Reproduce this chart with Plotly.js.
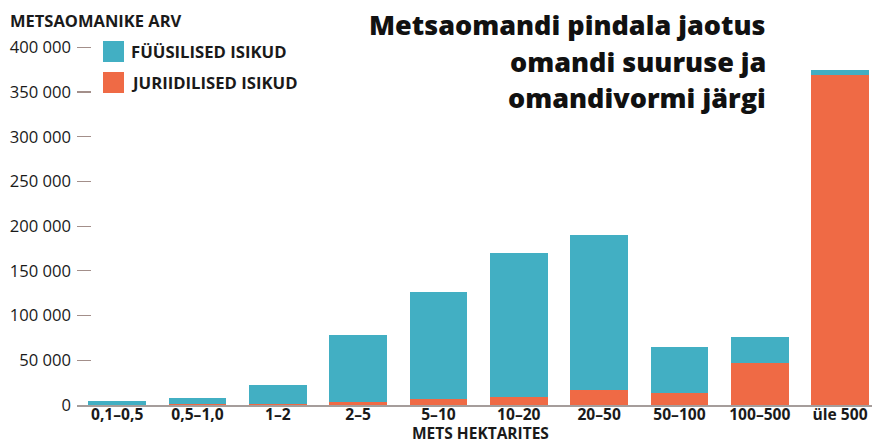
<!DOCTYPE html>
<html><head><meta charset="utf-8">
<script src="https://cdn.plot.ly/plotly-3.0.1.min.js"></script>
<style>html,body{margin:0;padding:0;background:#fff}#c{width:872px;height:443px}</style>
</head><body><div id="c"></div>
<script>
const categories = ["0,1–0,5","0,5–1,0","1–2","2–5","5–10","10–20","20–50","50–100","100–500","üle 500"];
const juriidilised = [500, 900, 1200, 3700, 6700, 8900, 17100, 13400, 47000, 369000];
const fyysilised = [4000, 6900, 21200, 74300, 119700, 161100, 172900, 51500, 29000, 5700];
const seriesNames = ["FÜÜSILISED ISIKUD","JURIIDILISED ISIKUD"];
const yTicks = [0,50000,100000,150000,200000,250000,300000,350000,400000];
const titleLines = ["Metsaomandi pindala jaotus","omandi suuruse ja","omandivormi järgi"];
const colBlue = "#42afc3", colOrange = "#ef6a45";
const FONT = "'Open Sans', 'Noto Sans', sans-serif";
const TXT = "#1a1a1a";

const traces = [
  {type:"bar", name:seriesNames[1], x:categories, y:juriidilised, marker:{color:colOrange}, hoverinfo:"skip"},
  {type:"bar", name:seriesNames[0], x:categories, y:fyysilised, marker:{color:colBlue}, hoverinfo:"skip"}
];

const W = 795, H = 365; // plot area size in px
const px = v => (v-77)/W, py = v => (405-v)/H;

const annotations = [
  {x:px(130), y:py(51.5), xanchor:"left", yanchor:"middle", text:seriesNames[0], font:{family:FONT, size:16.7, color:TXT, weight:700}},
  {x:px(130), y:py(82.5), xanchor:"left", yanchor:"middle", text:seriesNames[1], font:{family:FONT, size:16.7, color:TXT, weight:700}},
  {x:px(9), y:py(20), xanchor:"left", yanchor:"middle", text:"METSAOMANIKE ARV", font:{family:FONT, size:16.5, color:TXT, weight:700}},
  {x:px(480), y:py(433), xanchor:"center", yanchor:"middle", text:"METS HEKTARITES", font:{family:FONT, size:15.5, color:TXT, weight:700}}
];
const baselines = [36, 73, 109];
titleLines.forEach((t,i) => annotations.push({
  x:px(767), y:py(baselines[i]+8), xanchor:"right", yanchor:"bottom", text:t,
  font:{family:FONT, size:27, color:"#111", weight:800}
}));
annotations.forEach(a => {a.xref="paper"; a.yref="paper"; a.showarrow=false; a.borderpad=0;});

const layout = {
  width:872, height:443,
  margin:{l:77, r:0, t:40, b:38},
  barmode:"stack", bargap:0.28, showlegend:false,
  paper_bgcolor:"#fff", plot_bgcolor:"#fff",
  font:{family:FONT, size:15, color:TXT},
  xaxis:{
    type:"category", range:[-0.5, 9.397], showgrid:false, zeroline:false,
    showline:true, linecolor:"#a59d9b", linewidth:2, ticks:"",
    tickfont:{family:FONT, size:15.6, color:TXT, weight:700}, ticklabelstandoff:-6
  },
  yaxis:{
    range:[0, 408270], tickvals:yTicks, tickformat:",d", showgrid:false, zeroline:false,
    showline:false, ticks:"inside", ticklen:14, tickcolor:"#a38f8a", tickwidth:1.2,
    tickfont:{family:FONT, size:16.6, color:TXT}, ticklabelstandoff:5
  },
  separators:", ",
  shapes:[
    {type:"rect", xref:"paper", yref:"paper", x0:px(103), x1:px(124), y0:py(62), y1:py(41), fillcolor:colBlue, line:{width:0}},
    {type:"rect", xref:"paper", yref:"paper", x0:px(103), x1:px(124), y0:py(93), y1:py(72), fillcolor:colOrange, line:{width:0}}
  ],
  annotations:annotations
};
Plotly.newPlot("c", traces, layout, {staticPlot:true, displayModeBar:false});
</script></body></html>
